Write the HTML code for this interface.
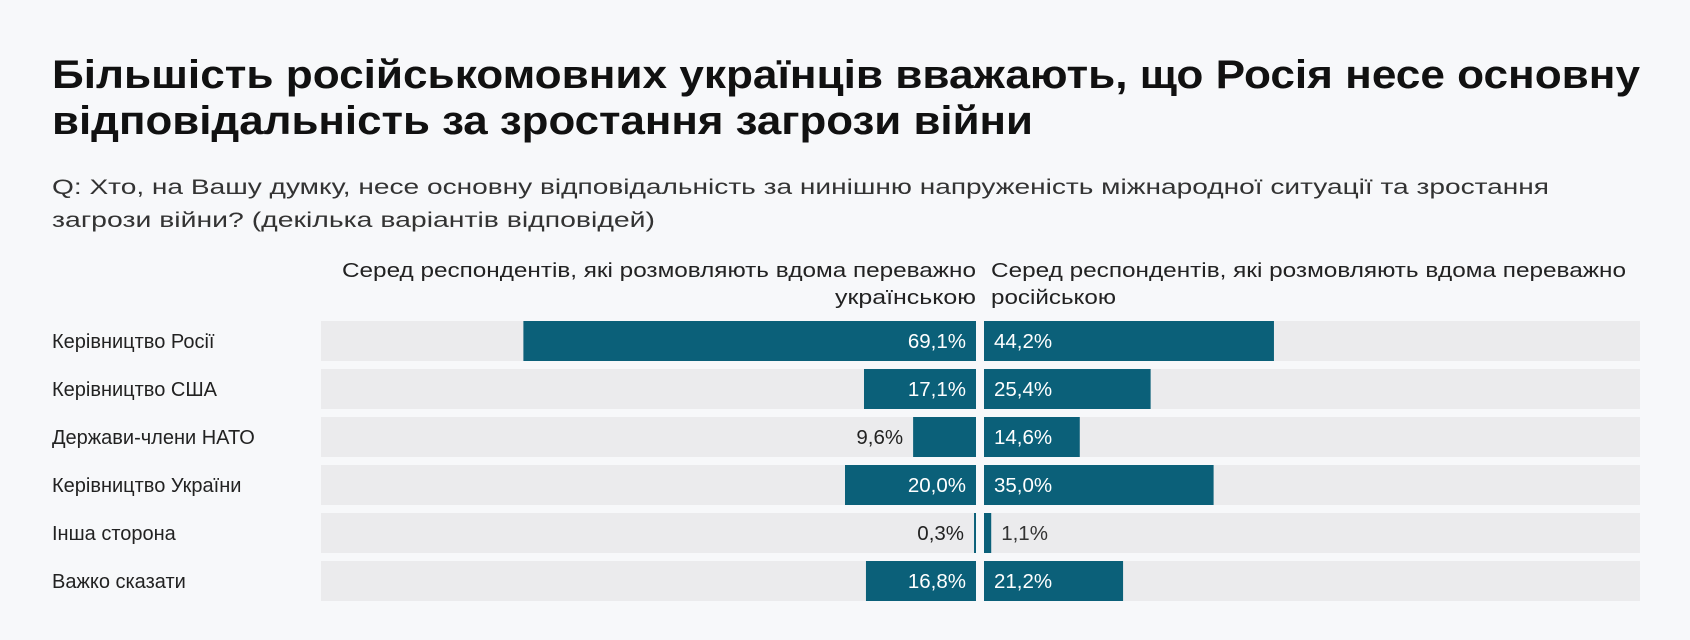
<!DOCTYPE html>
<html><head><meta charset="utf-8"><style>
html,body{margin:0;padding:0;background:#f7f8fa;}
svg{display:block;font-family:"Liberation Sans",sans-serif;}
</style></head><body>
<svg id="chart" width="1690" height="640" viewBox="0 0 1690 640" xmlns="http://www.w3.org/2000/svg">
<rect width="1690" height="640" fill="#f7f8fa"/>
<text x="52" y="88" font-size="40" font-weight="bold" fill="#111" textLength="1588" lengthAdjust="spacingAndGlyphs">Більшість російськомовних українців вважають, що Росія несе основну</text>
<text x="52" y="134" font-size="40" font-weight="bold" fill="#111" textLength="981" lengthAdjust="spacingAndGlyphs">відповідальність за зростання загрози війни</text>
<text x="52" y="194" font-size="21.5" fill="#333" textLength="1497" lengthAdjust="spacingAndGlyphs">Q: Хто, на Вашу думку, несе основну відповідальність за нинішню напруженість міжнародної ситуації та зростання</text>
<text x="52" y="227" font-size="21.5" fill="#333" textLength="603" lengthAdjust="spacingAndGlyphs">загрози війни? (декілька варіантів відповідей)</text>
<text x="342" y="277" font-size="20" fill="#222" textLength="634" lengthAdjust="spacingAndGlyphs">Серед респондентів, які розмовляють вдома переважно</text>
<text x="835" y="304" font-size="20" fill="#222" textLength="141" lengthAdjust="spacingAndGlyphs">українською</text>
<text x="991" y="277" font-size="20" fill="#222" textLength="635" lengthAdjust="spacingAndGlyphs">Серед респондентів, які розмовляють вдома переважно</text>
<text x="991" y="304" font-size="20" fill="#222" textLength="125" lengthAdjust="spacingAndGlyphs">російською</text>
<g id="rows"></g>
</svg>
<script>
const categories = ["Керівництво Росії","Керівництво США","Держави-члени НАТО","Керівництво України","Інша сторона","Важко сказати"];
const ukrSpeakers = [69.1,17.1,9.6,20.0,0.3,16.8];
const rusSpeakers = [44.2,25.4,14.6,35.0,1.1,21.2];

const NS="http://www.w3.org/2000/svg";
const g=document.getElementById('rows');
const L0=321,L1=976,R0=984,R1=1640,top0=321,pitch=48,bh=40;
const xl=v=>L1-(L1-L0)*v/100;
const xr=v=>R0+(R1-R0)*v/100;
const fmt=v=>v.toFixed(1).replace('.',',')+'%';
function mk(tag,attrs){const e=document.createElementNS(NS,tag);for(const k in attrs)e.setAttribute(k,attrs[k]);return e;}
categories.forEach((c,i)=>{
  const y=top0+i*pitch;
  const lab=mk('text',{x:52,y:y+bh/2+7,'font-size':20,fill:'#222'});
  
  
  lab.textContent=c;g.appendChild(lab);
  const bgL=mk('rect',{x:L0,y:y,width:L1-L0,height:bh,fill:'#ebebed'});
  
  
  g.appendChild(bgL);
  const bgR=mk('rect',{x:R0,y:y,width:R1-R0,height:bh,fill:'#ebebed'});
  
  
  g.appendChild(bgR);
  const u=ukrSpeakers[i],r=rusSpeakers[i];
  const bl=mk('rect',{x:xl(u),y:y,width:L1-xl(u),height:bh,fill:'#0b6079'});
  
  
  g.appendChild(bl);
  const br=mk('rect',{x:R0,y:y,width:xr(r)-R0,height:bh,fill:'#0b6079'});
  
  
  g.appendChild(br);
  const inL=(L1-xl(u))>75, inR=(xr(r)-R0)>75;
  const tl=mk('text',{x:inL?L1-10:xl(u)-10,y:y+bh/2+7,'font-size':20.5,'text-anchor':'end',fill:inL?'#fff':'#222'});
  
  
  tl.textContent=fmt(u);g.appendChild(tl);
  const tr=mk('text',{x:inR?R0+10:xr(r)+10,y:y+bh/2+7,'font-size':20.5,fill:inR?'#fff':'#333'});
  
  
  tr.textContent=fmt(r);g.appendChild(tr);
});
</script>
</body></html>
